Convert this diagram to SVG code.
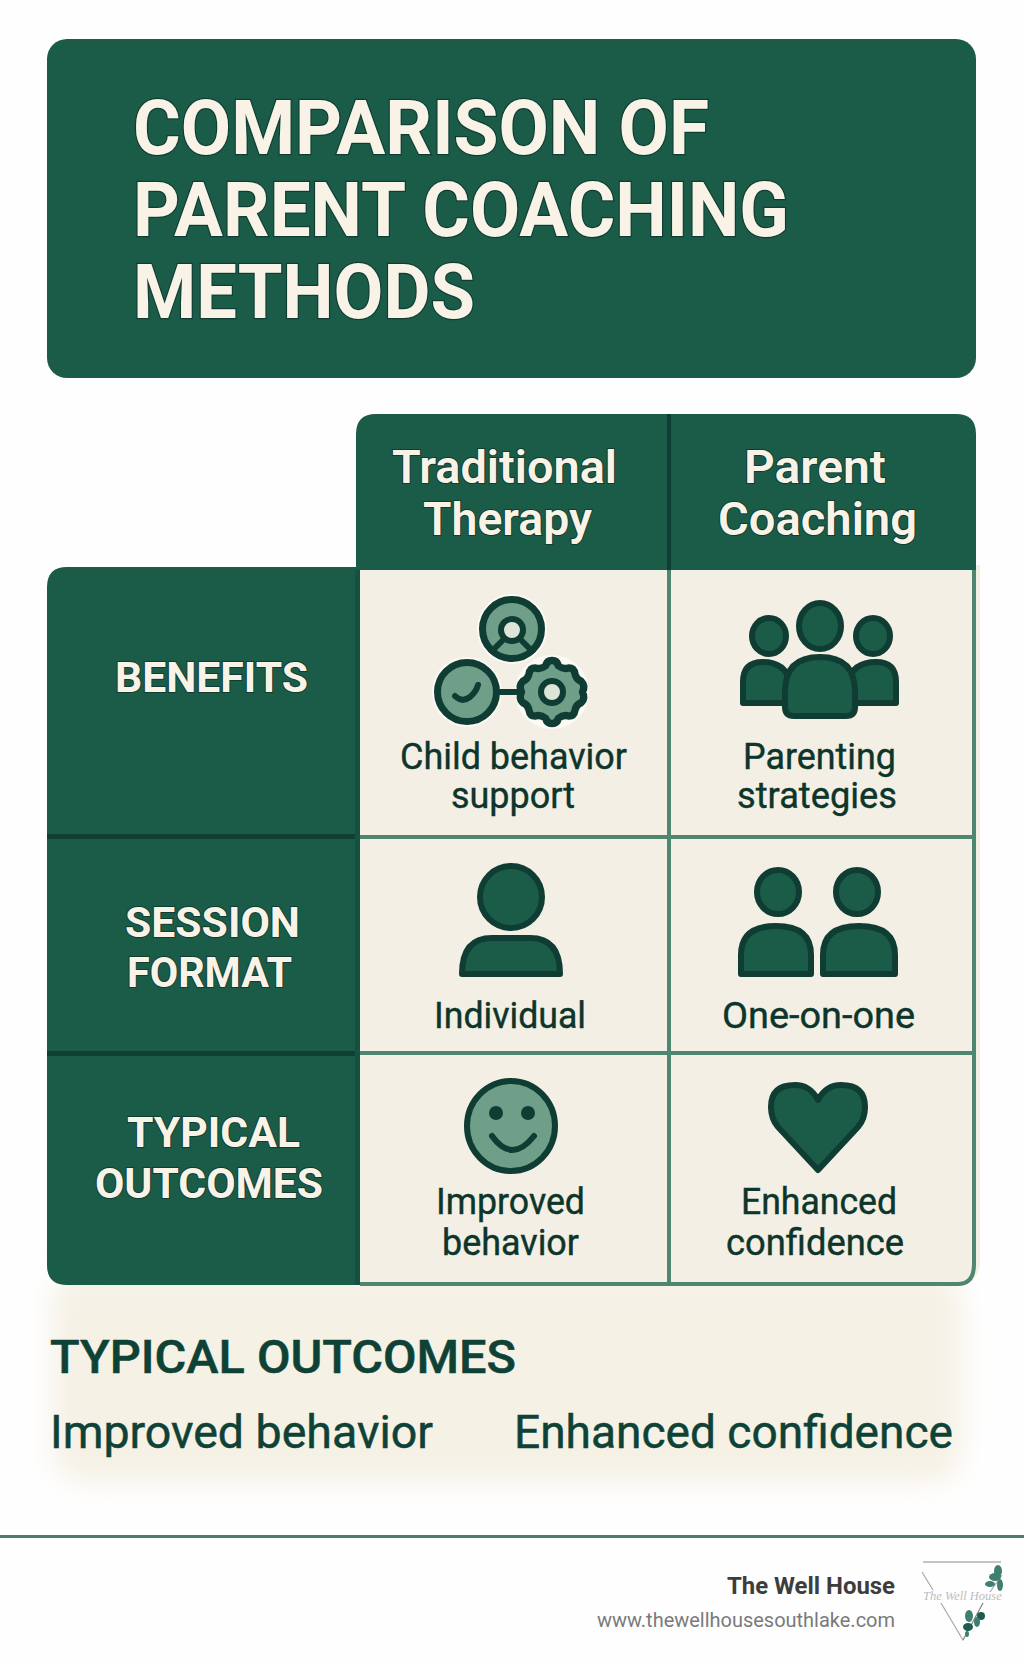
<svg xmlns="http://www.w3.org/2000/svg" width="1024" height="1666" viewBox="0 0 1024 1666">
<defs>
<filter id="soft" x="-10%" y="-30%" width="120%" height="160%"><feGaussianBlur stdDeviation="13"/></filter>
</defs>
<style>
text{font-family:Roboto,"Liberation Sans",sans-serif}
.hd{fill:#f8f3e6;stroke:#0f3d33;stroke-width:2;paint-order:stroke;font-weight:600}
.t{font-size:76px;font-weight:700;stroke-width:2.5}
.h{font-size:46px}
.r{font-size:42px;font-weight:700}
.c{fill:#0c352b;font-size:36px;font-weight:400;stroke:#0c352b;stroke-width:.4}
.b{fill:#0f4236;stroke:#0f4236;stroke-width:.5;font-size:46px;font-weight:400}
.d{fill:#1b5c49;stroke:#0f3d33;stroke-width:6;stroke-linejoin:round}
.m{fill:#6f9f88;stroke:#0f3d33;stroke-width:7;stroke-linejoin:round}
.l{fill:#dde5d8;stroke:#0f3d33;stroke-width:6}
.g{stroke:#4f8670;stroke-width:4;fill:none}
.halo{fill:#fbfaf5}
.leaf{fill:#3f7f70}
.lg{stroke:#a9a9a9;stroke-width:1.2;fill:none}
</style>
<rect width="1024" height="1666" fill="#fefefe"/>

<g id="title">
<rect x="47" y="39" width="929" height="339" rx="20" fill="#1b5c49"/>
<text class="hd t" x="133" y="153.500" textLength="576" lengthAdjust="spacingAndGlyphs">COMPARISON OF</text>
<text class="hd t" x="133" y="236" textLength="656" lengthAdjust="spacingAndGlyphs">PARENT COACHING</text>
<text class="hd t" x="133" y="318" textLength="342" lengthAdjust="spacingAndGlyphs">METHODS</text>
</g>

<g id="bottom-panel">
<rect x="52" y="1270" width="910" height="212" rx="34" fill="#f6f1e5" filter="url(#soft)"/>
<text class="b" style="font-weight:500" x="50" y="1373" textLength="466" lengthAdjust="spacingAndGlyphs">TYPICAL OUTCOMES</text>
<text class="b" x="50" y="1448" textLength="383" lengthAdjust="spacingAndGlyphs">Improved behavior</text>
<text class="b" x="514" y="1448" textLength="439" lengthAdjust="spacingAndGlyphs">Enhanced confidence</text>
</g>

<g id="table-body">
<path d="M356 565H980V1265Q976 1285 958 1285H356Z" fill="#f4efe4"/>
<path d="M360 1284H958Q974 1284 974 1264V570" fill="none" stroke="#4f8670" stroke-width="4"/>
<path class="g" d="M669 570V1284M360 837H976M360 1053H976"/>
</g>

<g id="header-traditional">
<path d="M356 570V434Q356 414 376 414H668V570Z" fill="#1b5c49"/>
<text class="hd h" x="392" y="483" textLength="225" lengthAdjust="spacingAndGlyphs">Traditional</text>
<text class="hd h" x="423" y="535" textLength="169" lengthAdjust="spacingAndGlyphs">Therapy</text>
</g>
<g id="header-parent">
<path d="M668 570V414H956Q976 414 976 434V570Z" fill="#1b5c49"/>
<rect x="667" y="414" width="4" height="156" fill="#0f3d33"/>
<text class="hd h" x="744" y="483" textLength="142" lengthAdjust="spacingAndGlyphs">Parent</text>
<text class="hd h" x="718" y="535" textLength="199" lengthAdjust="spacingAndGlyphs">Coaching</text>
</g>

<g id="row-benefits">
<path d="M47 835V587Q47 567 67 567H360V835Z" fill="#1b5c49"/>
<text class="hd r" x="115" y="691.500" textLength="193" lengthAdjust="spacingAndGlyphs">BENEFITS</text>
</g>
<g id="row-session">
<rect x="47" y="835" width="313" height="218" fill="#1b5c49"/>
<rect x="47" y="834" width="313" height="5" fill="#123f34"/>
<text class="hd r" x="125" y="937" textLength="175" lengthAdjust="spacingAndGlyphs">SESSION</text>
<text class="hd r" x="127" y="987" textLength="165" lengthAdjust="spacingAndGlyphs">FORMAT</text>
</g>
<g id="row-outcomes">
<path d="M47 1053H360V1285H67Q47 1285 47 1265Z" fill="#1b5c49"/>
<rect x="47" y="1051" width="313" height="5" fill="#123f34"/>
<text class="hd r" x="127" y="1147" textLength="173" lengthAdjust="spacingAndGlyphs">TYPICAL</text>
<text class="hd r" x="95" y="1198" textLength="228" lengthAdjust="spacingAndGlyphs">OUTCOMES</text>
</g>
<rect id="column-edge" x="355" y="570" width="5" height="715" fill="#155040"/>

<g id="cell-child-behavior">
<circle class="halo" cx="512" cy="629" r="35"/><circle class="halo" cx="467" cy="692" r="35"/><circle class="halo" cx="552" cy="692" r="37"/>
<path d="M497 692H522" stroke="#0f3d33" stroke-width="6"/>
<circle class="m" cx="512" cy="629" r="29.500"/>
<path d="M503 640L490 653M521 640L534 653" stroke="#0f3d33" stroke-width="6"/>
<circle class="l" cx="512" cy="630" r="11"/>
<circle class="m" cx="467" cy="692" r="29.500"/>
<path d="M455 696Q462 703 470 697Q476 692 478 685" fill="none" stroke="#0f3d33" stroke-width="6" stroke-linecap="round"/>
<path class="m" transform="translate(552 692) scale(1.05) translate(-552 -692)" d="M552 662 Q557 662 558 667 Q563 671 568 669 Q573 669 574 675 Q575 680 580 682 Q584 686 581 692 Q584 698 580 702 Q575 704 574 709 Q573 715 568 715 Q563 713 558 717 Q557 722 552 722 Q547 722 546 717 Q541 713 536 715 Q531 715 530 709 Q529 704 524 702 Q520 698 523 692 Q520 686 524 682 Q529 680 530 675 Q531 669 536 669 Q541 671 546 667 Q547 662 552 662Z"/>
<circle class="l" cx="552" cy="692" r="11"/>
<text class="c" x="400" y="769" textLength="227" lengthAdjust="spacingAndGlyphs">Child behavior</text>
<text class="c" x="451" y="808" textLength="124" lengthAdjust="spacingAndGlyphs">support</text>
</g>

<g id="cell-parenting">
<ellipse class="d" cx="769" cy="636" rx="17" ry="18"/>
<ellipse class="d" cx="873" cy="636" rx="17" ry="18"/>
<ellipse class="d" cx="820" cy="626" rx="21" ry="23"/>
<path class="d" d="M743 703V682Q743 662 763 662Q785 662 790 682V703Z"/>
<path class="d" d="M896 703V682Q896 662 876 662Q853 662 848 682V703Z"/>
<path class="d" d="M785 707V692Q785 657 820 657Q855 657 855 692V707Q855 716 846 716H794Q785 716 785 707Z"/>
<text class="c" x="743" y="769" textLength="153" lengthAdjust="spacingAndGlyphs">Parenting</text>
<text class="c" x="737" y="808" textLength="160" lengthAdjust="spacingAndGlyphs">strategies</text>
</g>

<g id="cell-individual">
<ellipse class="d" cx="511" cy="897" rx="31" ry="31"/>
<path class="d" d="M462 974Q462 938 492 938H530Q560 938 560 974Z"/>
<text class="c" x="434" y="1028" textLength="152" lengthAdjust="spacingAndGlyphs">Individual</text>
</g>

<g id="cell-one-on-one">
<ellipse class="d" cx="778" cy="892" rx="21" ry="22"/>
<ellipse class="d" cx="857" cy="892" rx="21" ry="22"/>
<path class="d" d="M741 974V955Q741 926 776 926Q811 926 811 955V974Z"/>
<path class="d" d="M823 974V955Q823 926 859 926Q895 926 895 955V974Z"/>
<text class="c" x="722" y="1028" textLength="193" lengthAdjust="spacingAndGlyphs">One-on-one</text>
</g>

<g id="cell-improved">
<ellipse class="m" style="stroke-width:6" cx="511" cy="1126" rx="44" ry="45"/>
<circle cx="496" cy="1113" r="7" fill="#0f3d33"/><circle cx="528" cy="1113" r="7" fill="#0f3d33"/>
<path d="M492 1136Q512 1164 534 1136" fill="none" stroke="#0f3d33" stroke-width="6" stroke-linecap="round"/>
<text class="c" x="436" y="1214" textLength="149" lengthAdjust="spacingAndGlyphs">Improved</text>
<text class="c" x="442" y="1255" textLength="137" lengthAdjust="spacingAndGlyphs">behavior</text>
</g>

<g id="cell-enhanced">
<path class="d" d="M818 1170L778 1127Q771 1119 771 1107Q771 1085 795 1085Q810 1085 818 1100Q826 1085 841 1085Q865 1085 865 1107Q865 1119 858 1127Z"/>
<text class="c" x="741" y="1214" textLength="156" lengthAdjust="spacingAndGlyphs">Enhanced</text>
<text class="c" x="726" y="1255" textLength="178" lengthAdjust="spacingAndGlyphs">confidence</text>
</g>

<g id="footer">
<rect x="0" y="1535" width="1024" height="3" fill="#4a7c72"/>
<text x="895" y="1594" text-anchor="end" font-size="24" font-weight="700" fill="#3d3d3d" textLength="168" lengthAdjust="spacingAndGlyphs">The Well House</text>
<text x="895" y="1627" text-anchor="end" font-size="20" fill="#7a7a7a" textLength="298" lengthAdjust="spacingAndGlyphs">www.thewellhousesouthlake.com</text>
</g>

<g id="logo">
<path d="M923 1562H1001" stroke="#c4c4c4" stroke-width="2"/>
<path class="lg" d="M922 1572L933 1590M941 1603L963 1640L983 1603M1002 1575L990 1592"/>
<path d="M963 1640L983 1603" stroke="#8a8a8a" stroke-width="1"/>
<g class="leaf">
<ellipse cx="998" cy="1571" rx="4" ry="6"/><ellipse cx="995" cy="1577" rx="6" ry="4"/><ellipse cx="990" cy="1584" rx="5" ry="3"/><ellipse cx="1000" cy="1585" rx="3" ry="6"/>
<ellipse cx="969" cy="1616" rx="4" ry="6"/><ellipse cx="981" cy="1616" rx="4" ry="4" fill="#1d5c4e"/><ellipse cx="977" cy="1622" rx="3" ry="5"/><ellipse cx="968" cy="1627" rx="5" ry="4" fill="#1d5c4e"/><ellipse cx="967" cy="1634" rx="2" ry="3"/>
</g>
<text x="923" y="1600" font-size="12.500" font-style="italic" style="font-family:'Liberation Serif',serif" fill="#bdbdbd">The Well House</text>
</g>
</svg>
